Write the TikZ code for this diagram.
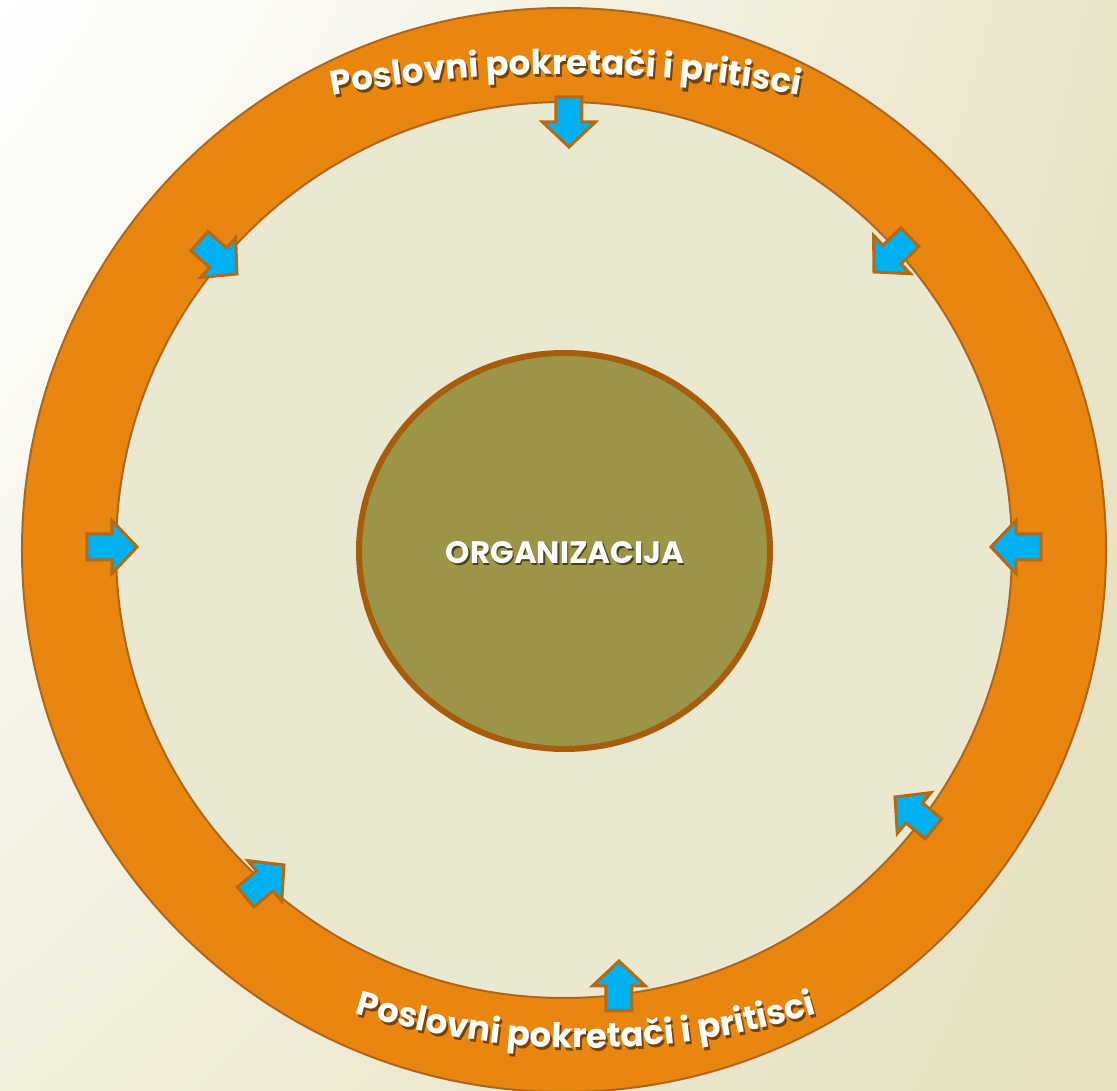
\documentclass[tikz,border=0pt]{standalone}
\usepackage{fontspec}
\setmainfont{Poppins}
\usetikzlibrary{shapes.geometric,decorations.text,shadings}
\definecolor{bandorange}{HTML}{E8860F}
\definecolor{bandedge}{HTML}{B0661A}
\definecolor{innerbg}{HTML}{EBE8D1}
\definecolor{orgfill}{HTML}{9C9446}
\definecolor{orgedge}{HTML}{A85D0C}
\definecolor{arrowblue}{HTML}{00B0F0}
\definecolor{arrowedge}{HTML}{B8690E}
\definecolor{bgtr}{HTML}{EAE5CB}
\definecolor{bgbl}{HTML}{F1EEDC}
\definecolor{bgbr}{HTML}{E6E0C0}
\newcommand\inwardarrow[3]{%
  \draw[blockarrow, shift={(#1,#2)}, rotate=#3]
    (0,0) -- (-25,26.5) -- (-25,13) -- (-50,13) -- (-50,-13) -- (-25,-13) -- (-25,-26.5) -- cycle;}
\begin{document}
\begin{tikzpicture}[x=1pt,y=1pt,
  blockarrow/.style={fill=arrowblue, draw=arrowedge, line width=3pt, line join=miter},
  ringshape/.style={circle, inner sep=0pt, draw=bandedge, line width=2pt},
  arctext/.style={decorate, decoration={text along path, text align=center, text={|\fontsize{34}{34}\selectfont\bfseries\color{#1}|Poslovni pokretači i pritisci}}}]
\useasboundingbox (-564,-541) rectangle (553,550);
\shade[upper left=white, upper right=bgtr, lower left=bgbl, lower right=bgbr] (-564,-541) rectangle (553,550);
\node[ringshape, fill=bandorange, minimum size=1084pt] (ring) at (0,0) {};
\node[ringshape, fill=innerbg, minimum size=896pt] (inner) at (0,0) {};
\node[ellipse, inner sep=0pt, fill=orgfill, draw=orgedge, line width=6pt, minimum width=411pt, minimum height=396pt] (org) at (0.5,-1) {};
\node[text=orgfill!45!black, font=\fontsize{31}{31}\selectfont\bfseries] (orgshadow) at (2.5,-5) {ORGANIZACIJA};
\node[text=white, font=\fontsize{31}{31}\selectfont\bfseries] (orgtext) at (1,-3) {ORGANIZACIJA};
% top arc text
\path[arctext=bandorange!50!black, shift={(2,-3)}] (2,-814) ++(100.8:1290) arc[start angle=100.8, end angle=79.2, radius=1290];
\path[arctext=white] (2,-814) ++(100.8:1290) arc[start angle=100.8, end angle=79.2, radius=1290];
% bottom arc text
\path[arctext=bandorange!50!black, shift={(2,-3)}] (22,288) ++(251:786) arc[start angle=251, end angle=289, radius=786];
\path[arctext=white] (22,288) ++(251:786) arc[start angle=251, end angle=289, radius=786];
% arrows
\inwardarrow{5}{403}{-90}
\inwardarrow{55}{-411}{90}
\inwardarrow{-427}{3}{0}
\inwardarrow{427}{3}{180}
\inwardarrow{-327}{276}{-41.2}
\inwardarrow{310}{278}{224}
\inwardarrow{-280}{-315}{39.8}
\inwardarrow{331}{-247}{140.3}
\end{tikzpicture}
\end{document}
